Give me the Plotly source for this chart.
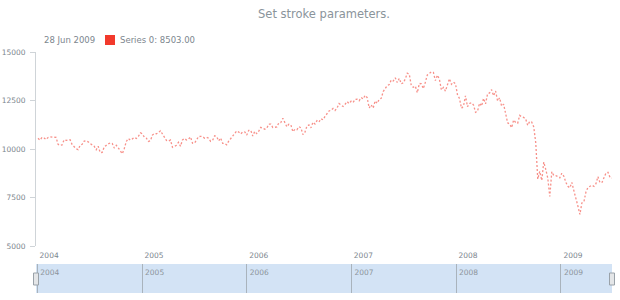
import plotly.graph_objects as go
import pandas as pd

# ---------------- data ----------------
start_date = "2004-01-04"          # weekly points (Sundays)
values_2004 = [10550, 10458, 10600, 10568, 10488, 10593, 10628, 10620, 10584, 10596,
               10240, 10186, 10212, 10470, 10442, 10451, 10472, 10226, 10117, 10012,
               9966, 10188, 10243, 10410, 10416, 10371, 10283, 10213, 10140, 9962,
               10140, 9815, 9825, 10110, 10195, 10260, 10314, 10284, 10047, 10192,
               10055, 9933, 9757, 10027, 10387, 10539, 10456, 10522, 10592, 10543,
               10650, 10828, 10783]
values_2005 = [10603, 10558, 10393, 10427, 10716, 10796, 10785, 10841, 10941, 10774,
               10630, 10442, 10404, 10461, 10088, 10157, 10193, 10345, 10140, 10471,
               10542, 10460, 10512, 10623, 10297, 10303, 10449, 10640, 10651, 10641,
               10558, 10600, 10559, 10397, 10447, 10678, 10641, 10419, 10569, 10292,
               10287, 10215, 10402, 10530, 10686, 10766, 10931, 10877, 10778, 10875,
               10883, 10718]
values_2006 = [10959, 10960, 10667, 10907, 10794, 10920, 11115, 11061, 11022, 11076,
               11280, 11279, 11109, 11120, 11137, 11347, 11367, 11578, 11380, 11144,
               11278, 11247, 10892, 11015, 10989, 11150, 11091, 10739, 10868, 11185,
               11240, 11089, 11381, 11284, 11464, 11392, 11560, 11508, 11679, 11850,
               11960, 12002, 12090, 11986, 12108, 12342, 12280, 12194, 12307, 12445,
               12343, 12463]
values_2007 = [12398, 12556, 12565, 12487, 12653, 12580, 12767, 12647, 12114, 12276,
               12110, 12481, 12354, 12560, 12612, 12961, 13120, 13264, 13326, 13556,
               13507, 13668, 13424, 13639, 13360, 13409, 13612, 13907, 13851, 13265,
               13182, 13240, 12900, 13379, 13358, 13113, 13443, 13821, 13896, 13980,
               13950, 13523, 13807, 13596, 13043, 13177, 12981, 13372, 13626, 13340,
               13451, 13366]
values_2008 = [12800, 12606, 12099, 12207, 12743, 12182, 12348, 12381, 12266, 11894,
               11951, 12361, 12216, 12609, 12325, 12849, 12891, 13058, 12745, 12986,
               12480, 12638, 12210, 12307, 11843, 11346, 11288, 11100, 11496, 11370,
               11326, 11734, 11659, 11628, 11543, 11220, 11421, 11388, 11143, 10325,
               8451, 8852, 8378, 9325, 8943, 8497, 7552, 8829, 8635, 8629,
               8579, 8515]
values_2009 = [8750, 8599, 8281, 8077, 8001, 8280, 7850, 7366, 7063, 6627,
               7224, 7278, 7776, 8018, 8083, 8131, 8076, 8212, 8575, 8268,
               8277, 8500, 8763, 8799, 8539, 8503]

values = values_2004 + values_2005 + values_2006 + values_2007 + values_2008 + values_2009
dates = pd.date_range(start_date, periods=len(values), freq="7D")

y_ticks = [5000, 7500, 10000, 12500, 15000]
year_ticks = ["2004-01-01", "2005-01-01", "2006-01-01", "2007-01-01", "2008-01-01", "2009-01-01"]
year_labels = ["2004", "2005", "2006", "2007", "2008", "2009"]
title_text = "Set stroke parameters."
series_name = "Series 0"

# ---------------- layout helpers ----------------
W, H = 620, 300
L, R = 36, 612
main_top, main_bot = 52, 246
scr_top, scr_bot = 264, 293


def px(x):
    return x / W


def py(y):
    return 1 - y / H


label_col = "#7c868e"
font_fam = "DejaVu Sans, Verdana, sans-serif"
x_range = ["2003-12-28", dates[-1].strftime("%Y-%m-%d")]

fig = go.Figure()
fig.add_trace(go.Scatter(
    x=dates, y=values, mode="lines",
    line=dict(color="rgba(242,70,58,0.6)", width=1.3, dash="2px,2px"),
    hoverinfo="skip", showlegend=False))
fig.add_trace(go.Scatter(
    x=[dates[0], dates[-1]], y=[0.5, 0.5], xaxis="x2", yaxis="y2",
    mode="lines", line=dict(width=0, color="rgba(0,0,0,0)"),
    hoverinfo="skip", showlegend=False))

fig.update_layout(
    width=W, height=H,
    margin=dict(l=0, r=0, t=0, b=0, autoexpand=False),
    paper_bgcolor="white", plot_bgcolor="rgba(0,0,0,0)",
    font=dict(family=font_fam, color=label_col),
    title=dict(text=title_text, x=px((L + R) / 2), xanchor="center", y=py(14),
               yanchor="middle",
               font=dict(size=11.5, color="#8a949b", family=font_fam)),
    xaxis=dict(domain=[px(L), px(R)], anchor="y", range=x_range, type="date",
               automargin=False,
               tickvals=year_ticks, ticktext=year_labels, ticks="",
               showline=False, showgrid=False, zeroline=False,
               tickfont=dict(size=7.5, color=label_col), ticklabelshift=12,
               ticklabelstandoff=3),
    yaxis=dict(domain=[py(main_bot), py(main_top)], anchor="x", range=[5000, 15000],
               automargin=False,
               tickvals=y_ticks, ticktext=[str(v) for v in y_ticks],
               ticks="outside", ticklen=5, tickcolor="#cfd4d8", tickwidth=1,
               showline=True, linecolor="#cfd4d8", linewidth=1,
               showgrid=False, zeroline=False,
               tickfont=dict(size=7.5, color=label_col), ticklabelstandoff=3),
    xaxis2=dict(domain=[px(L), px(R)], anchor="y2", range=x_range, type="date",
                automargin=False,
                side="top", tickvals=year_ticks, ticktext=year_labels,
                ticklabelposition="inside right", ticks="", ticklabelshift=3,
                showgrid=True, gridcolor="#a9b3bc", gridwidth=1,
                showline=False, zeroline=False,
                tickfont=dict(size=7.5, color="#8d959c")),
    yaxis2=dict(domain=[py(scr_bot), py(scr_top)], anchor="x2", range=[0, 1],
                automargin=False, visible=False, fixedrange=True),
)

shapes = [
    dict(type="rect", xref="x2 domain", yref="y2 domain", x0=0, x1=1, y0=0, y1=1,
         fillcolor="#d3e3f5", line=dict(width=0), layer="below"),
]
for cx in (L, R):
    shapes.append(dict(type="rect", xref="paper", yref="paper",
                       x0=px(cx - 2.5), x1=px(cx + 2.5), y0=py(285), y1=py(273),
                       fillcolor="#e4e6e8", line=dict(color="#9aa2a9", width=1)))
# legend marker
shapes.append(dict(type="rect", xref="paper", yref="paper",
                   x0=px(105), x1=px(115), y0=py(45), y1=py(35),
                   fillcolor="#f2392c", line=dict(width=0)))
fig.update_layout(shapes=shapes)

last_date = dates[-1]
date_txt = f"{last_date.day} {last_date.strftime('%b %Y')}"
fig.add_annotation(text=date_txt, xref="paper", yref="paper", x=px(42), y=py(40),
                   xanchor="left", yanchor="middle", showarrow=False,
                   font=dict(size=8.5, color=label_col))
fig.add_annotation(text=f"{series_name}: {values[-1]:.2f}", xref="paper", yref="paper",
                   x=px(118), y=py(40), xanchor="left", yanchor="middle", showarrow=False,
                   font=dict(size=8.5, color=label_col))

fig.write_html("out.html")
